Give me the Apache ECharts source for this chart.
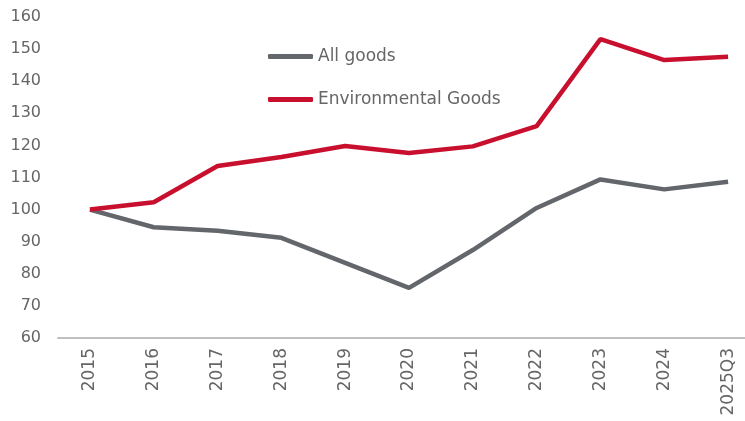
<!DOCTYPE html>
<html>
<head>
<meta charset="utf-8">
<script src="https://cdn.jsdelivr.net/npm/echarts@6/dist/echarts.min.js"></script>
<style>
  html, body { margin: 0; padding: 0; background: #fff; }
  #chart { width: 745px; height: 421px; }
</style>
</head>
<body>
<div id="chart"></div>
<script>
// Trade index, 2015 = 100
var years = ['2015', '2016', '2017', '2018', '2019', '2020', '2021', '2022', '2023', '2024', '2025Q3'];
var allGoods = [100, 94.5, 93.4, 91.2, 83.4, 75.6, 87.4, 100.5, 109.4, 106.3, 108.7];
var environmentalGoods = [100, 102.3, 113.6, 116.4, 119.8, 117.6, 119.7, 126.0, 153.1, 146.6, 147.6];
var yTicks = { min: 60, max: 160, step: 10 };

var textColor = '#666666';
var fontFamily = '"DejaVu Sans"';

var chart = echarts.init(document.getElementById('chart'), null, { renderer: 'canvas' });
chart.setOption({
  animation: false,
  backgroundColor: '#ffffff',
  grid: { left: 58, top: 17, width: 702, height: 321, containLabel: false, outerBoundsMode: 'none' },
  legend: {
    orient: 'vertical',
    left: 268,
    top: 48,
    padding: 0,
    itemGap: 26,
    itemWidth: 45,
    itemHeight: 5,
    icon: 'roundRect',
    textStyle: { color: textColor, fontSize: 17, fontFamily: fontFamily },
    data: ['All goods', 'Environmental Goods']
  },
  xAxis: {
    type: 'category',
    data: years,
    boundaryGap: true,
    axisLine: { show: true, lineStyle: { color: '#bfbfbf', width: 2 } },
    axisTick: { show: false },
    axisLabel: {
      rotate: 90,
      margin: 10,
      color: textColor,
      fontSize: 17,
      fontFamily: fontFamily,
      interval: 0
    },
    splitLine: { show: false }
  },
  yAxis: {
    type: 'value',
    min: yTicks.min,
    max: yTicks.max,
    interval: yTicks.step,
    axisLine: { show: false },
    axisTick: { show: false },
    splitLine: { show: false },
    axisLabel: { color: textColor, fontSize: 16, fontFamily: fontFamily, margin: 17 }
  },
  series: [
    {
      name: 'All goods',
      type: 'line',
      data: allGoods,
      showSymbol: false,
      symbol: 'none',
      color: '#63666a',
      lineStyle: { width: 4.5, color: '#63666a' },
      z: 2
    },
    {
      name: 'Environmental Goods',
      type: 'line',
      data: environmentalGoods,
      showSymbol: false,
      symbol: 'none',
      color: '#c8102e',
      lineStyle: { width: 4.5, color: '#c8102e' },
      z: 3
    }
  ]
});
</script>
</body>
</html>
